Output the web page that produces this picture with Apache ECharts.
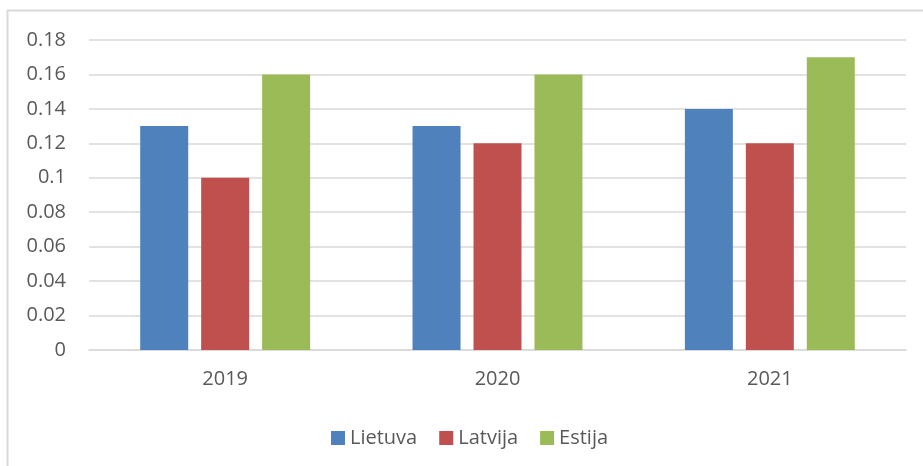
<!DOCTYPE html>
<html>
<head>
<meta charset="utf-8">
<script src="https://cdn.jsdelivr.net/npm/echarts@6/dist/echarts.min.js"></script>
<style>
html, body { margin: 0; padding: 0; background: #fff; }
#chart { width: 923px; height: 466px; }
</style>
</head>
<body>
<div id="chart"></div>
<script>
// duomenys
var years = ['2019', '2020', '2021'];
var lietuva = [0.13, 0.13, 0.14];
var latvija = [0.10, 0.12, 0.12];
var estija = [0.16, 0.16, 0.17];
var seriesNames = ['Lietuva', 'Latvija', 'Estija'];
var seriesColors = ['#4f81bd', '#c0504d', '#9bbb59'];

var chart = echarts.init(document.getElementById('chart'));
var textColor = '#595959';
var fontFam = '"Open Sans", "Noto Sans", sans-serif';

function bar(name, data, color) {
	return {
		name : name,
		type : 'bar',
		data : data,
		barWidth : 48,
		barGap : '27%',
		itemStyle : { color : color }
	};
}

var option = {
	backgroundColor : '#fff',
	animation : false,
	textStyle : { fontFamily : fontFam },
	graphic : [ {
		type : 'polyline',
		shape : { points : [ [7.5, 470], [7.5, 10.5], [930, 10.5] ] },
		style : { stroke : '#d9d9d9', lineWidth : 2, fill : null }
	} ],
	legend : {
		data : seriesNames,
		left : 326,
		top : 423,
		itemWidth : 14,
		itemHeight : 14,
		itemGap : 22,
		icon : 'rect',
		textStyle : { color : textColor, fontSize : 20, fontFamily : fontFam }
	},
	grid : { left : 89, right : 17, top : 40, bottom : 116 },
	xAxis : {
		type : 'category',
		data : years,
		axisLine : { lineStyle : { color : '#d9d9d9', width : 1.5 } },
		axisTick : { show : false },
		axisLabel : { color : textColor, fontSize : 20, margin : 19 }
	},
	yAxis : {
		type : 'value',
		min : 0,
		max : 0.18,
		interval : 0.02,
		axisLine : { show : false },
		axisTick : { show : false },
		splitLine : { lineStyle : { color : '#d9d9d9', width : 1.5 } },
		axisLabel : { color : textColor, fontSize : 20, margin : 23,
			formatter : function(v) { return String(+v.toFixed(2)); } }
	},
	series : [
		bar(seriesNames[0], lietuva, seriesColors[0]),
		bar(seriesNames[1], latvija, seriesColors[1]),
		bar(seriesNames[2], estija, seriesColors[2])
	]
};
chart.setOption(option);
</script>
</body>
</html>
